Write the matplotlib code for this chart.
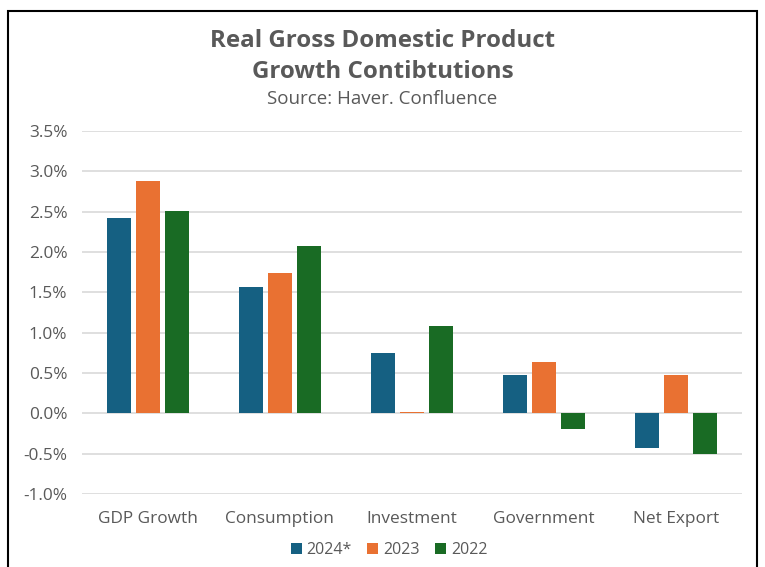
import numpy as np
import matplotlib.pyplot as plt
from matplotlib.patches import Rectangle
from matplotlib.ticker import FuncFormatter

plt.rcParams['font.family'] = ['Open Sans', 'DejaVu Sans']

# data
categories = ['GDP Growth', 'Consumption', 'Investment', 'Government', 'Net Export']
series_names = ['2024*', '2023', '2022']
vals_2024 = [2.42, 1.56, 0.75, 0.48, -0.43]
vals_2023 = [2.88, 1.74, 0.02, 0.63, 0.48]
vals_2022 = [2.51, 2.07, 1.08, -0.20, -0.50]
colors = ['#156082', '#E97132', '#196B24']

fig = plt.figure(figsize=(7.65, 5.67), dpi=100)
ax = fig.add_axes([0.107, 0.129, 0.863, 0.640])

x = np.arange(len(categories))
w = 0.18
step = 0.22
for i, (vals, name) in enumerate(zip([vals_2024, vals_2023, vals_2022], series_names)):
    ax.bar(x + (i - 1) * step, vals, width=w, color=colors[i], label=name,
           linewidth=0, zorder=3)

ax.set_xlim(-0.5, len(categories) - 0.5)
ax.set_ylim(-1.0, 3.5)
ax.set_yticks(np.arange(-1.0, 3.51, 0.5))
ax.yaxis.set_major_formatter(FuncFormatter(lambda v, p: f'{v:.1f}%'))
ax.set_xticks(x)
ax.set_xticklabels(categories)
ax.grid(axis='y', color='#D9D9D9', linewidth=1.2, zorder=0)
for s in ax.spines.values():
    s.set_visible(False)
ax.tick_params(axis='both', length=0, labelsize=12.4, colors='#595959', pad=10.5)
ax.tick_params(axis='x', pad=12)

handles, labels = ax.get_legend_handles_labels()
leg = fig.legend(handles, labels, loc='center', bbox_to_anchor=(389 / 765, 1 - 550 / 567),
                 ncol=3, frameon=False, fontsize=11.5, handlelength=0.7, handleheight=0.7,
                 handletextpad=0.3, columnspacing=0.95)
for t in leg.get_texts():
    t.set_color('#595959')

fig.text(0.5, 0.928, 'Real Gross Domestic Product', ha='center', va='center',
         fontsize=17.4, fontweight='bold', color='#595959')
fig.text(0.5, 0.873, 'Growth Contibtutions', ha='center', va='center',
         fontsize=17.4, fontweight='bold', color='#595959')
fig.text(0.5, 0.826, 'Source: Haver. Confluence', ha='center', va='center',
         fontsize=13.5, color='#595959')

# black outline around the chart
fig.patches.append(Rectangle((8 / 765, -0.05), 749 / 765, 1.05 - 11 / 567,
                             transform=fig.transFigure, fill=False,
                             edgecolor='black', linewidth=1.5))

fig.savefig('out.png', dpi=100)
